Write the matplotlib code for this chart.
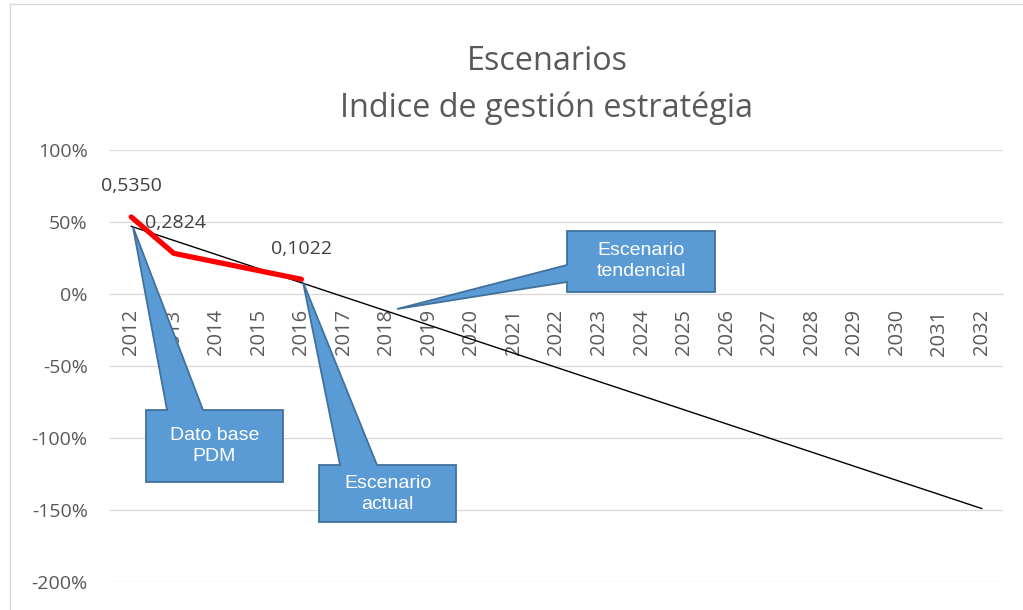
import matplotlib
matplotlib.use('Agg')
import matplotlib.pyplot as plt
from matplotlib.patches import Polygon
from matplotlib.lines import Line2D
from matplotlib.ticker import PercentFormatter, MultipleLocator

# ── Data ────────────────────────────────────────────────────────────────
years        = list(range(2012, 2033))
actual_years = [2012, 2013, 2014, 2015, 2016]
actual_vals  = [0.5350, 0.2824, 0.2220, 0.1620, 0.1022]
label_years  = [2012, 2013, 2016]
label_texts  = ['0,5350', '0,2824', '0,1022']
trend_years  = [2012, 2032]
trend_vals   = [0.47, -1.49]
title_lines  = ['Escenarios', 'Indice de gestión estratégia']

W, H = 1023, 610
AX_L, AX_R, AX_T, AX_B = 110, 1003, 150, 582   # plot area in pixels

plt.rcParams['font.family'] = ['Open Sans', 'DejaVu Sans']
plt.rcParams['axes.unicode_minus'] = False

fig = plt.figure(figsize=(W / 100, H / 100), dpi=100)
ax = fig.add_axes([AX_L / W, 1 - AX_B / H, (AX_R - AX_L) / W, (AX_B - AX_T) / H])

def px(x, y):
    # pixel position -> axes fraction
    return ((x - AX_L) / (AX_R - AX_L), (AX_B - y) / (AX_B - AX_T))

xi = lambda yrs: [y - years[0] for y in yrs]

# ── Series ──────────────────────────────────────────────────────────────
ax.plot(xi(trend_years), trend_vals, color='black', linewidth=1.0, zorder=3)
ax.plot(xi(actual_years), actual_vals, color='#ff0000', linewidth=3.8,
        solid_capstyle='round', zorder=4)

for yr, txt in zip(label_years, label_texts):
    v = actual_vals[actual_years.index(yr)]
    ax.annotate(txt, (yr - years[0], v), xytext=(1 if yr == 2013 else 0, 22),
                textcoords='offset points', ha='center', va='center',
                fontsize=14, color='#404040', zorder=6)

# ── Axes ────────────────────────────────────────────────────────────────
ax.set_xlim(-0.5, len(years) - 0.5)
ax.set_ylim(-2, 1)
ax.yaxis.set_major_locator(MultipleLocator(0.5))
ax.yaxis.set_major_formatter(PercentFormatter(xmax=1, decimals=0))
ax.set_xticks(range(len(years)))
ax.set_xticklabels([str(y) for y in years])
ax.spines['bottom'].set_position(('data', 0))
ax.spines['bottom'].set_color('#d9d9d9')
for s in ['top', 'right', 'left']:
    ax.spines[s].set_visible(False)
ax.tick_params(axis='x', length=0, pad=11, labelsize=14.5, labelcolor='#595959',
               labelrotation=90)
ax.tick_params(axis='y', length=0, pad=16, labelsize=14, labelcolor='#595959')
ax.grid(axis='y', color='#d9d9d9', linewidth=0.9)
ax.set_axisbelow(True)

# ── Callouts ────────────────────────────────────────────────────────────
callouts = [
    ('Dato base\nPDM',
     [(146, 410), (167, 410), (133, 227), (203, 410), (283, 410), (283, 482), (146, 482)],
     (214.5, 446)),
    ('Escenario\nactual',
     [(319, 465), (340, 465), (303, 282), (377, 465), (456, 465), (456, 522), (319, 522)],
     (387.5, 494)),
    ('Escenario\ntendencial',
     [(567, 231), (715, 231), (715, 292), (567, 292), (567, 282), (397, 309), (567, 265)],
     (641, 261)),
]
for text, verts, centre in callouts:
    poly = Polygon([px(*v) for v in verts], closed=True, transform=ax.transAxes,
                   facecolor='#5b9bd5', edgecolor='#41719c', linewidth=1.3,
                   clip_on=False, zorder=5)
    ax.add_patch(poly)
    ax.text(*px(*centre), text, transform=ax.transAxes, ha='center', va='center',
            fontsize=14, color='white', family=['Liberation Sans'],
            linespacing=1.3, zorder=6)

# ── Title ───────────────────────────────────────────────────────────────
fig.text(547 / W, 1 - 62 / H, title_lines[0], ha='center', va='center',
         fontsize=23.3, color='#595959')
fig.text(547 / W, 1 - 108 / H, title_lines[1], ha='center', va='center',
         fontsize=23.3, color='#595959')

# chart-area border
fig.add_artist(Line2D([10 / W, 10 / W], [0, 1 - 4 / H], transform=fig.transFigure,
                      color='#d9d9d9', linewidth=1))
fig.add_artist(Line2D([10 / W, 1], [1 - 4 / H, 1 - 4 / H], transform=fig.transFigure,
                      color='#d9d9d9', linewidth=1))

fig.savefig('out.png', dpi=100, facecolor='white')
